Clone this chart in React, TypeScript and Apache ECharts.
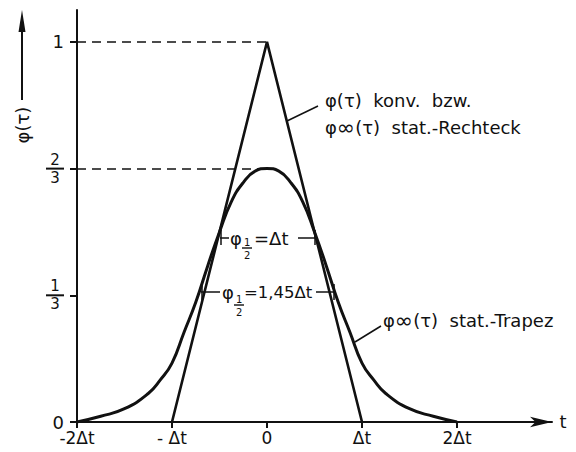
import React, { useEffect, useRef } from "react";
import * as echarts from "echarts";

// Axis ticks and their labels (time in units of Δt, correlation normalised to 1)
const xTickValues = [-2, -1, 0, 1, 2];
const xTickLabels = ["-2Δt", "- Δt", "0", "Δt", "2Δt"];
const yTickValues = [0, 1 / 3, 2 / 3, 1];
const yTickLabels = ["0", "1/3", "2/3", "1"];

// φ(τ) konv. / φ∞(τ) stationary rectangle: triangular correlation
const triangleT = [-1, 0, 1];
const trianglePhi = [0, 1, 0];

// φ∞(τ) stationary trapezoid: bell-shaped correlation
const trapezT = [
  -2, -1.75, -1.5, -1.25, -1.125, -1, -0.875, -0.75, -0.625, -0.5, -0.375, -0.25, -0.125, 0,
  0.125, 0.25, 0.375, 0.5, 0.625, 0.75, 0.875, 1, 1.125, 1.25, 1.5, 1.75, 2,
];
const trapezPhi = [
  0, 0.015, 0.035, 0.075, 0.11, 0.155, 0.235, 0.315, 0.41, 0.5, 0.58, 0.63, 0.66, 0.667,
  0.66, 0.63, 0.58, 0.5, 0.41, 0.315, 0.235, 0.155, 0.11, 0.075, 0.035, 0.015, 0,
];

const FONT = "DejaVu Sans";
const INK = "#111";

function lookup(values: number[], labels: string[], v: number): string {
  const i = values.findIndex((x) => Math.abs(x - v) < 1e-6);
  return i < 0 ? "" : labels[i];
}

function fractionLabel(s: string): string {
  if (s.indexOf("/") < 0) return `{n|${s}}`;
  const [a, b] = s.split("/");
  return `{f|${a}}\n{bar|}\n{f|${b}}`;
}

// φ with a stacked ½ subscript followed by the rest of the text
function phiHalf(x: number, y: number, rest: string, dy: number, restSize: number, restGap: number) {
  const t = (ox: number, oy: number, text: string, size: number) => ({
    type: "text",
    x: x + ox,
    y: y + oy,
    style: { text, fontFamily: FONT, fontSize: size, fill: INK, verticalAlign: "middle", align: "left" },
  });
  return [
    t(0, 0, "φ", 18),
    t(14, 4 + dy, "1", 10),
    {
      type: "line",
      shape: { x1: x + 12, y1: y + 10 + dy, x2: x + 22, y2: y + 10 + dy },
      style: { stroke: INK, lineWidth: 1.4 },
    },
    t(14, 17 + dy, "2", 10),
    t(restGap, 0, rest, restSize),
  ];
}

function seg(x1: number, y1: number, x2: number, y2: number, w = 1.5) {
  return { type: "line", shape: { x1, y1, x2, y2 }, style: { stroke: INK, lineWidth: w } };
}

const annotationRich = {
  t: { fontFamily: FONT, fontSize: 18, fill: INK, lineHeight: 22 },
  s: { fontFamily: FONT, fontSize: 22, fill: INK, lineHeight: 14, verticalAlign: "bottom" },
};

export default function App() {
  const ref = useRef<HTMLDivElement>(null);

  useEffect(() => {
    document.body.style.margin = "0";
    const chart = echarts.init(ref.current!, null, { renderer: "svg" });

    const option = {
      animation: false,
      grid: { left: 77, right: 24, top: 10, bottom: 30 },
      xAxis: {
        type: "value",
        min: -2,
        max: 3,
        axisLine: {
          onZero: false,
          lineStyle: { color: INK, width: 2 },
          symbol: ["none", "arrow"],
          symbolSize: [8, 22],
        },
        axisTick: { customValues: xTickValues, length: 6, lineStyle: { color: INK, width: 2 } },
        axisLabel: {
          customValues: xTickValues,
          formatter: (v: number) => lookup(xTickValues, xTickLabels, v),
          fontFamily: FONT,
          fontSize: 17,
          lineHeight: 16,
          color: INK,
          margin: 8,
        },
        splitLine: { show: false },
      },
      yAxis: {
        type: "value",
        min: 0,
        max: 1.084,
        axisLine: { show: true, onZero: false, lineStyle: { color: INK, width: 2 } },
        axisTick: { show: true, customValues: yTickValues, length: 7, lineStyle: { color: INK, width: 2 } },
        axisLabel: {
          customValues: yTickValues,
          formatter: (v: number) => fractionLabel(lookup(yTickValues, yTickLabels, v)),
          color: INK,
          margin: 13,
          rich: {
            n: { fontFamily: FONT, fontSize: 18, color: INK, lineHeight: 14 },
            f: { fontFamily: FONT, fontSize: 15, color: INK, align: "center", lineHeight: 14 },
            bar: { width: 18, height: 2, lineHeight: 4, backgroundColor: INK },
          },
        },
        splitLine: { show: false },
      },
      series: [
        {
          type: "line",
          data: triangleT.map((t, i) => [t, trianglePhi[i]]),
          symbol: "none",
          lineStyle: { color: INK, width: 2.6 },
          z: 3,
        },
        {
          type: "line",
          data: trapezT.map((t, i) => [t, trapezPhi[i]]),
          symbol: "none",
          smooth: true,
          lineStyle: { color: INK, width: 3 },
          z: 3,
          markLine: {
            silent: true,
            symbol: ["none", "none"],
            label: { show: false },
            lineStyle: { type: [9, 6], color: INK, width: 1.5 },
            data: [
              [{ coord: [-2, 1] }, { coord: [0, 1] }],
              [{ coord: [-2, 2 / 3] }, { coord: [-0.03, 2 / 3] }],
            ],
          },
        },
      ],
      graphic: [
        // ordinate arrow with its rotated title
        seg(22, 100, 22, 26, 2),
        { type: "polygon", shape: { points: [[22, 10], [18.5, 32], [25.5, 32]] }, style: { fill: INK } },
        {
          type: "text",
          x: 22,
          y: 125,
          rotation: Math.PI / 2,
          style: { text: "φ(τ)", fontFamily: FONT, fontSize: 18, fill: INK, align: "center", verticalAlign: "middle" },
        },
        // abscissa name
        {
          type: "text",
          x: 563,
          y: 421,
          style: { text: "t", fontFamily: FONT, fontSize: 18, fill: INK, align: "center", verticalAlign: "middle" },
        },
        // rectangle / convolution label
        seg(318, 106, 287, 121),
        {
          type: "text",
          x: 325,
          y: 100,
          style: { text: "{t|φ(τ)  konv.  bzw.}", verticalAlign: "middle", rich: annotationRich },
        },
        {
          type: "text",
          x: 325,
          y: 127,
          style: { text: "{t|φ}{s|∞}{t|(τ)  stat.-Rechteck}", verticalAlign: "middle", rich: annotationRich },
        },
        // trapezoid label
        seg(381, 326, 355, 342),
        {
          type: "text",
          x: 383,
          y: 320,
          style: { text: "{t|φ}{s|∞}{t|(τ)  stat.-Trapez}", verticalAlign: "middle", rich: annotationRich },
        },
        // half-value widths
        seg(220, 238, 229, 238),
        seg(298, 238, 316, 238),
        seg(221, 230, 221, 245),
        seg(315, 230, 315, 245),
        ...phiHalf(230, 238, "=Δt", 0, 18, 24),
        seg(201, 292, 220, 292),
        seg(316, 292, 336, 292),
        seg(202, 284, 202, 300),
        seg(334, 284, 334, 300),
        ...phiHalf(222, 292, "=1,45Δt", 3, 16.5, 22),
      ],
    };

    chart.setOption(option as any);
    return () => chart.dispose();
  }, []);

  return (
    <div
      ref={ref}
      style={{ position: "absolute", left: 0, top: 0, width: 576, height: 452, background: "#fff" }}
    />
  );
}
